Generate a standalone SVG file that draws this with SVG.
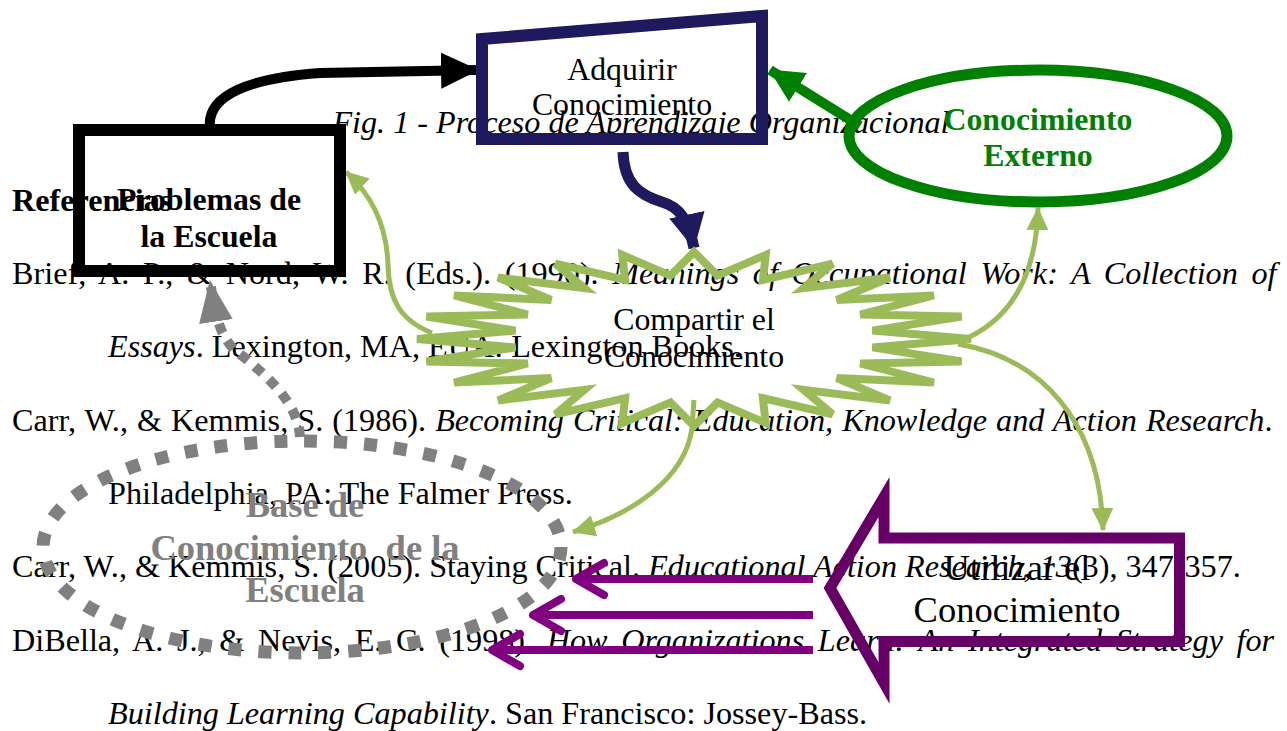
<svg xmlns="http://www.w3.org/2000/svg" width="1287" height="731" viewBox="0 0 1287 731">
<style>
.body{font-family:"Liberation Serif","Times New Roman",serif;font-size:32.2px;fill:#000}
.it{font-style:italic}
.lbl{font-family:"Liberation Serif","Times New Roman",serif;font-size:31.8px;text-anchor:middle}
.big{font-size:36.5px}
.b{font-weight:bold}
.shape{fill:none}
</style>
<defs>
<marker id="mBlack" markerUnits="userSpaceOnUse" viewBox="0 0 38 36" refX="37" refY="18" markerWidth="38" markerHeight="36" orient="auto"><path d="M0,0 L38,18 L0,36 z" fill="#000"/></marker>
<marker id="mNavy" markerUnits="userSpaceOnUse" viewBox="0 0 35 36" refX="34" refY="18" markerWidth="35" markerHeight="36" orient="auto"><path d="M0,0 L35,18 L0,36 z" fill="#1f1a5e"/></marker>
<marker id="mDGreen" markerUnits="userSpaceOnUse" viewBox="0 0 34 34" refX="33" refY="17" markerWidth="34" markerHeight="34" orient="auto"><path d="M0,0 L34,17 L0,34 z" fill="#008000"/></marker>
<marker id="mLGreen" markerUnits="userSpaceOnUse" viewBox="0 0 23 22" refX="22" refY="11" markerWidth="23" markerHeight="22" orient="auto"><path d="M0,0 L23,11 L0,22 z" fill="#9bbb59"/></marker>
<marker id="mGray" markerUnits="userSpaceOnUse" viewBox="0 0 42 34" refX="41" refY="17" markerWidth="42" markerHeight="34" orient="auto"><path d="M0,0 L42,17 L0,34 z" fill="#808080"/></marker>
<marker id="mPurple" markerUnits="userSpaceOnUse" viewBox="-34 -22 40 44" refX="0" refY="0" markerWidth="40" markerHeight="44" orient="auto"><path d="M-28,-16 L0,0 L-28,16" fill="none" stroke="#800080" stroke-width="8" stroke-linecap="round" stroke-linejoin="round"/></marker>
</defs>

<g id="references">
<text class="body b" x="12" y="211">Referencias</text>
<text class="body" x="12" y="284" word-spacing="5.6">Brief, A. P., &amp; Nord, W. R. (Eds.). (1990). <tspan class="it">Meanings of Occupational Work: A Collection of</tspan></text>
<text class="body" x="108" y="357"><tspan class="it">Essays</tspan>. Lexington, MA, EUA: Lexington Books.</text>
<text class="body" x="12" y="431" word-spacing="1">Carr, W., &amp; Kemmis, S. (1986). <tspan class="it">Becoming Critical: Education, Knowledge and Action Research</tspan>.</text>
<text class="body" x="108" y="504">Philadelphia, PA: The Falmer Press.</text>
<text class="body" x="12" y="577">Carr, W., &amp; Kemmis, S. (2005). Staying Critical. <tspan class="it">Educational Action Research, 13</tspan>(3), 347-357.</text>
<text class="body" x="12" y="651" word-spacing="5.6">DiBella, A. J., &amp; Nevis, E. C. (1998). <tspan class="it">How Organizations Learn: An Integrated Strategy for</tspan></text>
<text class="body" x="108" y="724"><tspan class="it">Building Learning Capability</tspan>. San Francisco: Jossey-Bass.</text>
<text class="body it" x="641" y="133" text-anchor="middle">Fig. 1 - Proceso de Aprendizaje Organizacional</text>
</g>

<g id="connectors" fill="none">
<path d="M210,128 C206,95 250,78 320,73 L478,70" stroke="#000" stroke-width="10" marker-end="url(#mBlack)"/>
<path d="M860,126 L770,70" stroke="#008000" stroke-width="10" marker-end="url(#mDGreen)"/>
<path d="M623,152 C624,185 640,195 662,202 C680,207 688,220 694,248" stroke="#1f1a5e" stroke-width="11" marker-end="url(#mNavy)"/>
<path d="M432,333 C400,320 389,300 388,265 C387,230 375,198 346,172" stroke="#9bbb59" stroke-width="5" marker-end="url(#mLGreen)"/>
<path d="M958,342 C1000,326 1036,290 1038,208" stroke="#9bbb59" stroke-width="5" marker-end="url(#mLGreen)"/>
<path d="M958,344 C1040,358 1100,420 1103,530" stroke="#9bbb59" stroke-width="5" marker-end="url(#mLGreen)"/>
<path d="M694,400 L692,428 C685,480 630,515 573,532" stroke="#9bbb59" stroke-width="5" marker-end="url(#mLGreen)"/>
<path d="M300,437 C298,400 262,372 235,350 C222,338 216,322 210,281" stroke="#808080" stroke-width="10" stroke-dasharray="10 9" marker-end="url(#mGray)"/>
<path d="M813,579 L576,579" stroke="#800080" stroke-width="8" marker-end="url(#mPurple)"/>
<path d="M813,615 L533,615" stroke="#800080" stroke-width="8" marker-end="url(#mPurple)"/>
<path d="M813,650 L492,650" stroke="#800080" stroke-width="8" marker-end="url(#mPurple)"/>
</g>

<g id="problemas">
<rect class="shape" x="79" y="130" width="261" height="141" stroke="#000" stroke-width="12"/>
<text class="lbl b" x="209" y="210">Problemas de</text>
<text class="lbl b" x="209" y="247">la Escuela</text>
</g>

<g id="adquirir">
<polygon class="shape" points="482,39 762,16 762,139 482,139" stroke="#1f1a5e" stroke-width="12"/>
<text class="lbl" x="622" y="80">Adquirir</text>
<text class="lbl" x="622" y="115">Conocimiento</text>
</g>

<g id="externo">
<ellipse class="shape" cx="1038" cy="136" rx="189" ry="66" stroke="#008000" stroke-width="11"/>
<text class="lbl b" x="1038" y="130" fill="#008000">Conocimiento</text>
<text class="lbl b" x="1038" y="166" fill="#008000">Externo</text>
</g>

<g id="compartir">
<polygon class="shape" stroke="#9bbb59" stroke-width="8" points="694,252 717.5,275.6 765.7,255 762.9,279.9 832.5,263.7 803.6,288.2 889.9,277.5 836.8,300 933.9,295.5 860.3,314.5 961.6,316.5 872.5,330.6 971,339 872.5,347.4 961.6,361.5 860.3,363.5 933.9,382.5 836.8,378 889.9,400.5 803.6,389.8 832.5,414.3 762.9,398.1 765.7,423 717.5,402.4 694,426 670.5,402.4 622.3,423 625.1,398.1 555.5,414.3 584.4,389.8 498.1,400.5 551.2,378 454.1,382.5 527.7,363.5 426.4,361.5 515.5,347.4 417,339 515.5,330.6 426.4,316.5 527.7,314.5 454.1,295.5 551.2,300 498.1,277.5 584.4,288.2 555.5,263.7 625.1,279.9 622.3,255 670.5,275.6"/>
<text class="lbl" x="694" y="330">Compartir el</text>
<text class="lbl" x="694" y="367">Conocimiento</text>
</g>

<g id="utilizar">
<polygon class="shape" points="830,588 884,497 884,538 1179.5,538 1179.5,641.5 884,641.5 884,683" stroke="#660066" stroke-width="11"/>
<text class="lbl big" x="1017" y="580">Utilizar el</text>
<text class="lbl big" x="1017" y="622">Conocimiento</text>
</g>

<g id="base">
<ellipse class="shape" cx="302" cy="547" rx="259" ry="106" stroke="#808080" stroke-width="13" stroke-dasharray="13 17"/>
<text class="lbl big b" x="305" y="517" fill="#808080">Base de</text>
<text class="lbl big b" x="305" y="560" fill="#808080" xml:space="preserve">Conocimiento  de la</text>
<text class="lbl big b" x="305" y="602" fill="#808080">Escuela</text>
</g>
</svg>
